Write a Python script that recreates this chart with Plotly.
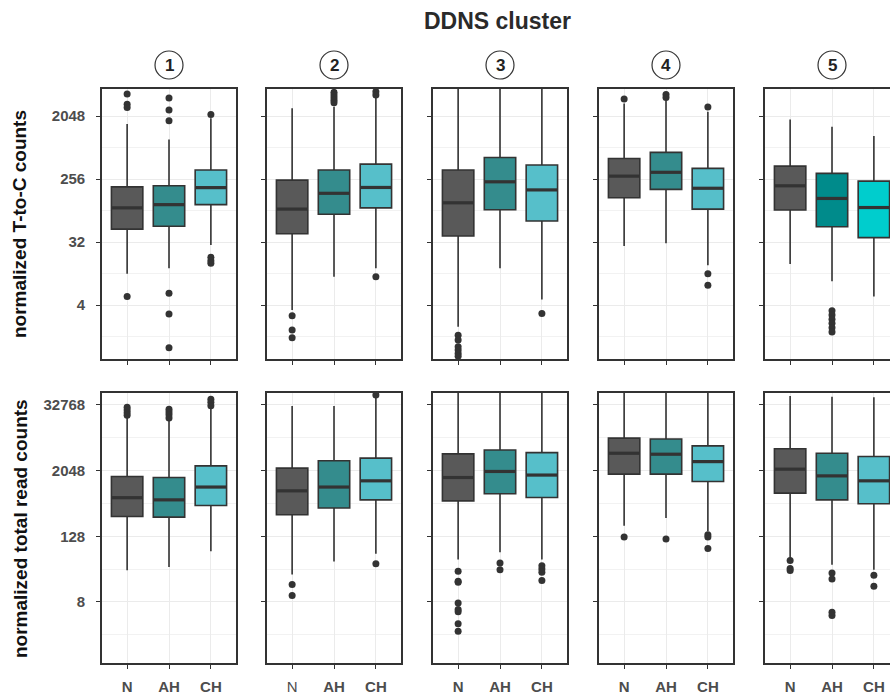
import plotly.graph_objects as go
from plotly.subplots import make_subplots

groups = ["N", "AH", "CH"]
clusters = ["1", "2", "3", "4", "5"]

# ---- top row: normalized T-to-C counts (per cluster: N, AH, CH) ----
tc_q1 = [[49, 54, 110], [42, 80, 99], [39, 93, 64], [138, 182, 95], [92, 53, 37]]
tc_med = [[99, 110, 193], [95, 160, 194], [117, 234, 179], [282, 320, 189], [205, 135, 100]]
tc_q3 = [[198, 205, 345], [247, 345, 419], [345, 523, 407], [505, 618, 365], [393, 309, 239]]
tc_lo = [[11.2, 13.5, 29], [3.4, 10.2, 13.5], [1.96, 13.5, 4.8], [28, 30.7, 14.9], [15.5, 8.8, 5.3]]
tc_hi = [[1574, 949, 1911], [2646, 2779, 3875], [5405, 5405, 5405], [3104, 3468, 2370], [1833, 1438, 1060]]
tc_out = [
    [[4240, 3019, 2721, 5.3], [3717, 2504, 1758, 5.9, 2.97, 0.98], [2165, 19.3, 17.3, 15.9]],
    [[2.81, 1.75, 1.36], [4482, 4096, 3743, 3444, 3169], [4575, 4096, 10.2]],
    [[1.48, 1.26, 1.01, 0.91, 0.81, 0.74], [], [3.03]],
    [[3591], [4182, 3794], [2758, 11.2, 7.7]],
    [[], [3.32, 2.87, 2.50, 2.19, 1.89, 1.64], []],
]

# ---- bottom row: normalized total read counts ----
rc_q1 = [[296, 288, 471], [317, 422, 596], [572, 771, 657], [1771, 1771, 1296], [792, 596, 505]]
rc_med = [[653, 596, 1024], [873, 1024, 1332], [1531, 1978, 1699], [4270, 4096, 2998], [2180, 1641, 1332]]
rc_q3 = [[1596, 1531, 2504], [2273, 3104, 3468], [4153, 4904, 4390], [8080, 7805, 5833], [5149, 4270, 3717]]
rc_lo = [[30.5, 35, 67.7], [25.5, 44.3, 61.4], [47.8, 64.9, 47.8], [199, 276, 157.6], [51.3, 38.6, 31.3]]
rc_hi = [[20037, 17430, 28526], [31450, 31450, 46341], [92682, 92682, 92682], [92682, 92682, 92682], [47975, 46341, 45390]]
rc_out = [
    [[29739, 26610, 23654, 21178], [27356, 24320, 21770, 18940], [41760, 36700, 31660]],
    [[16.7, 10.5], [], [50000, 40]],
    [[29.2, 19.2, 18.4, 7.67, 5.82, 5.28, 3.18, 2.33], [41.6, 31.3], [37, 32.2, 28, 19.7]],
    [[124.5], [114.6], [137, 124.5, 76.1]],
    [[45.9, 32.7, 30.1], [27.3, 21.1, 5.17, 4.50], [24.6, 15.5]],
]

tc_ticks = [4, 32, 256, 2048]
tc_minor = [1.414, 11.31, 90.51, 724.1]
rc_ticks = [8, 128, 2048, 32768]
rc_minor = [2, 32, 512, 8192]

fill_default = ["#595959", "#348c8d", "#56bfca"]
fill_top5 = ["#595959", "#008b8b", "#00cdcd"]

W, H = 890, 697
col_px = [(102, 236), (267, 401), (433, 567), (599, 733), (765, 890)]
row_px = [(89, 359), (393, 663)]
unit = 134 / 3.2

fig = make_subplots(rows=2, cols=5)

INK = "#333333"
GRID = "#ebebeb"
TICKFONT = dict(family="Liberation Sans", size=15, color="#4d4d4d", weight="bold")

rows_data = [
    (tc_q1, tc_med, tc_q3, tc_lo, tc_hi, tc_out),
    (rc_q1, rc_med, rc_q3, rc_lo, rc_hi, rc_out),
]

for r in range(2):
    q1s, meds, q3s, los, his, outs = rows_data[r]
    for c in range(5):
        colors = fill_top5 if (r == 0 and c == 4) else fill_default
        for g in range(3):
            fig.add_trace(go.Box(
                x=[g], q1=[q1s[c][g]], median=[meds[c][g]], q3=[q3s[c][g]],
                lowerfence=[los[c][g]], upperfence=[his[c][g]],
                width=0.75, whiskerwidth=0, boxpoints=False,
                fillcolor=colors[g], line=dict(color=INK, width=1.6),
                showlegend=False, hoverinfo="skip"), row=r + 1, col=c + 1)
            fig.add_trace(go.Scatter(
                x=[g - 0.375, g + 0.375], y=[meds[c][g], meds[c][g]], mode="lines",
                line=dict(color=INK, width=3.2), showlegend=False, hoverinfo="skip"),
                row=r + 1, col=c + 1)
            if outs[c][g]:
                fig.add_trace(go.Scatter(
                    x=[g] * len(outs[c][g]), y=outs[c][g], mode="markers",
                    marker=dict(color=INK, size=7), showlegend=False, hoverinfo="skip",
                    cliponaxis=True), row=r + 1, col=c + 1)

layout = {}
for r in range(2):
    for c in range(5):
        k = r * 5 + c + 1
        sx = "" if k == 1 else str(k)
        x0, x1 = col_px[c]
        y0, y1 = row_px[r]
        xr = [-0.6, -0.6 + (x1 - x0) / unit]
        if r == 0:
            ticktext = ["", "", ""]
        else:
            ticktext = ["N" if c != 1 else "<span style='font-weight:normal'>N</span>", "AH", "CH"]
        layout["xaxis" + sx] = dict(
            domain=[x0 / W, x1 / W], range=xr, tickmode="array", tickvals=[0, 1, 2],
            ticktext=ticktext, showticklabels=(r == 1), ticks="outside", ticklen=4,
            tickwidth=1.3, tickcolor=INK, showline=True, linecolor=INK, linewidth=1.6,
            mirror=True, showgrid=True, gridcolor=GRID, gridwidth=1, zeroline=False,
            tickfont=TICKFONT, ticklabelstandoff=5)
        if r == 0:
            yrng = [-0.57 * 0.30103, 12.29 * 0.30103]
            tv, mv = tc_ticks, tc_minor
        else:
            yrng = [-0.72 * 0.30103, 15.73 * 0.30103]
            tv, mv = rc_ticks, rc_minor
        layout["yaxis" + sx] = dict(
            domain=[1 - y1 / H, 1 - y0 / H], type="log", range=yrng, tickmode="array",
            tickvals=tv, ticktext=[str(v) for v in tv], showticklabels=(c == 0),
            ticks="outside", ticklen=4, tickwidth=1.3, tickcolor=INK, showline=True,
            linecolor=INK, linewidth=1.6, mirror=(c != 4), showgrid=True, gridcolor=GRID,
            gridwidth=1.2, zeroline=False, tickfont=TICKFONT, ticklabelstandoff=8,
            minor=dict(tickmode="array", tickvals=mv, showgrid=True, gridcolor="#f2f2f2",
                       gridwidth=1, ticks=""))

fig.update_layout(**layout)

annotations = [
    dict(text="DDNS cluster", x=497 / W, y=1 - 21 / H, xref="paper", yref="paper",
         xanchor="center", yanchor="middle", showarrow=False,
         font=dict(family="Liberation Sans", size=23, color="#2a2a2a", weight="bold")),
    dict(text="normalized T-to-C counts", x=20 / W, y=1 - 224 / H, xref="paper", yref="paper",
         xanchor="center", yanchor="middle", textangle=-90, showarrow=False,
         font=dict(family="Liberation Sans", size=19, color="#111111", weight="bold")),
    dict(text="normalized total read counts", x=20 / W, y=1 - 529 / H, xref="paper", yref="paper",
         xanchor="center", yanchor="middle", textangle=-90, showarrow=False,
         font=dict(family="Liberation Sans", size=19, color="#111111", weight="bold")),
]
shapes = []
for c in range(5):
    xr = "x" if c == 0 else "x" + str(c + 1)
    annotations.append(dict(text=clusters[c], x=1, y=1 - 65 / H, xref=xr, yref="paper",
                            xanchor="center", yanchor="middle", showarrow=False,
                            font=dict(family="Liberation Sans", size=17, color="#222222", weight="bold")))
    shapes.append(dict(type="circle", xref=xr, yref="paper", xsizemode="pixel", ysizemode="pixel",
                       xanchor=1, yanchor=1 - 65 / H, x0=-14, x1=14, y0=-14, y1=14,
                       line=dict(color="#333333", width=1.2)))

fig.update_layout(
    width=W, height=H, margin=dict(l=0, r=0, t=0, b=0),
    paper_bgcolor="white", plot_bgcolor="white",
    annotations=annotations, shapes=shapes, showlegend=False,
)

fig.write_html("out.html")
